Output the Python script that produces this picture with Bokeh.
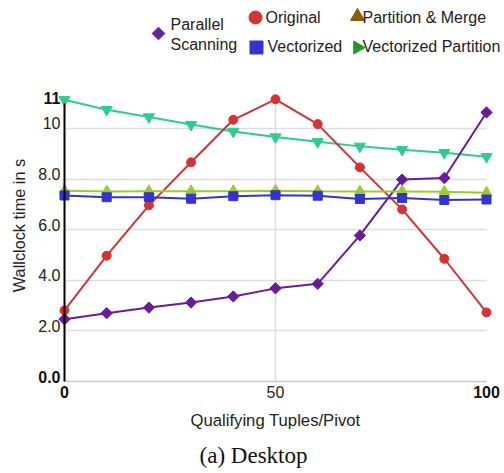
import numpy as np
from bokeh.plotting import figure
from bokeh.models import (Range1d, FixedTicker, Label, ColumnDataSource, LinearAxis, Grid)
from bokeh.layouts import column
from bokeh.embed import file_html
from bokeh.resources import INLINE

# ---------------- data ----------------
qualifying = [0, 10, 20, 30, 40, 50, 60, 70, 80, 90, 100]
parallel_scanning = [2.46, 2.70, 2.92, 3.12, 3.36, 3.68, 3.86, 5.77, 7.98, 8.04, 10.63]
original = [2.81, 4.97, 6.96, 8.66, 10.34, 11.15, 10.17, 8.46, 6.80, 4.85, 2.73]
partition_merge = [7.54, 7.51, 7.52, 7.52, 7.52, 7.54, 7.52, 7.51, 7.51, 7.50, 7.46]
vectorized = [7.35, 7.28, 7.28, 7.22, 7.32, 7.36, 7.34, 7.21, 7.25, 7.17, 7.19]
vectorized_partition = [11.13, 10.74, 10.45, 10.15, 9.88, 9.66, 9.47, 9.29, 9.16, 9.04, 8.88]

y_ticks = [2, 4, 6, 8, 10]
y_tick_labels = ["2.0", "4.0", "6.0", "8.0", "10"]
y_bold_ticks = [0, 11]
y_bold_labels = ["0.0", "11"]
x_ticks = [50]
x_tick_labels = ["50"]
x_bold_ticks = [0, 100]
x_bold_labels = ["0", "100"]

legend_labels = ["Parallel\nScanning", "Original", "Vectorized", "Partition & Merge", "Vectorized Partition"]

SANS = "Liberation Sans"

# ---------------- geometry (canvas pixels) ----------------
W, H_MAIN, H_LEG = 504, 413, 60
X_END, Y_END = 100, 11
AX_LEFT, AX_RIGHT = 64, 486          # x axis spans these pixels
AX_BOTTOM = 381 - H_LEG              # y=0 line, from top of main canvas
PX_X = (AX_RIGHT - AX_LEFT) / X_END
PX_Y = 25.31
LABEL_SHIFT = 5 / PX_Y               # tick labels sit slightly above their grid line

x0 = -AX_LEFT / PX_X
x1 = (W - AX_LEFT) / PX_X
y0 = -(H_MAIN - AX_BOTTOM) / PX_Y
y1 = AX_BOTTOM / PX_Y

p = figure(width=W, height=H_MAIN,
           x_range=Range1d(x0, x1), y_range=Range1d(y0, y1),
           x_axis_location=None, y_axis_location=None,
           output_backend="svg", toolbar_location=None,
           min_border=0, min_border_left=0, min_border_right=0,
           min_border_top=0, min_border_bottom=0)
p.outline_line_color = None
p.background_fill_color = "white"
p.grid.visible = False

# grid lines
has_cb = "cross_bounds" in Grid.properties()
xg = Grid(dimension=0, ticker=FixedTicker(ticks=x_ticks), grid_line_color="#dddddd",
          grid_line_width=1.6)
yg = Grid(dimension=1, ticker=FixedTicker(ticks=y_ticks), grid_line_color="#dddddd",
          grid_line_width=1.6)
if has_cb:
    xg.cross_bounds = (0, Y_END)
    yg.cross_bounds = (0, X_END)
p.add_layout(xg, "center")
p.add_layout(yg, "center")


def style_axis(ax, size="16px", bold=False):
    ax.major_tick_line_color = None
    ax.minor_tick_line_color = None
    ax.major_tick_out = 0
    ax.major_tick_in = 0
    ax.major_label_text_font = SANS
    ax.major_label_text_font_size = size
    ax.major_label_text_color = "#111111" if bold else "#222222"
    ax.major_label_text_font_style = "bold" if bold else "normal"
    ax.major_label_standoff = 4


# y title axis (no ticks)
yax_t = LinearAxis(ticker=FixedTicker(ticks=[]), fixed_location=0, axis_line_color=None,
                   bounds=(1.35, Y_END),
                   axis_label="Wallclock time in s", axis_label_standoff=37,
                   axis_label_text_font=SANS, axis_label_text_font_size="16.3px",
                   axis_label_text_font_style="normal", axis_label_text_color="#222222")
style_axis(yax_t)
yax_t.major_label_standoff = 0
p.add_layout(yax_t, "left")

# main y axis (normal labels)
y_pos = [t + LABEL_SHIFT for t in y_ticks]
yax = LinearAxis(ticker=FixedTicker(ticks=y_pos), fixed_location=0,
                 major_label_overrides={pp: l for pp, l in zip(y_pos, y_tick_labels)},
                 bounds=(0, Y_END), axis_line_color="black", axis_line_width=2)
style_axis(yax)
p.add_layout(yax, "left")

# bold y labels
yb_pos = [t + LABEL_SHIFT for t in y_bold_ticks]
yax_b = LinearAxis(ticker=FixedTicker(ticks=yb_pos), fixed_location=0,
                   major_label_overrides={pp: l for pp, l in zip(yb_pos, y_bold_labels)},
                   axis_line_color=None)
style_axis(yax_b, bold=True)
p.add_layout(yax_b, "left")

# x axis (normal)
xax = LinearAxis(ticker=FixedTicker(ticks=x_ticks), fixed_location=0,
                 major_label_overrides={t: l for t, l in zip(x_ticks, x_tick_labels)},
                 bounds=(0, X_END), axis_line_color="#c8c8c8", axis_line_width=1.5,
                 axis_label="Qualifying Tuples/Pivot", axis_label_standoff=10,
                 axis_label_text_font=SANS, axis_label_text_font_size="16.7px",
                 axis_label_text_font_style="normal", axis_label_text_color="#222222")
style_axis(xax)
p.add_layout(xax, "below")

# bold x labels
xax_b = LinearAxis(ticker=FixedTicker(ticks=x_bold_ticks), fixed_location=0,
                   major_label_overrides={t: l for t, l in zip(x_bold_ticks, x_bold_labels)},
                   axis_line_color=None)
style_axis(xax_b, bold=True)
p.add_layout(xax_b, "below")

# caption
p.add_layout(Label(x=253, y=18, x_units="screen", y_units="screen",
                   text="(a) Desktop", text_align="center", text_baseline="middle",
                   text_font="Liberation Serif", text_font_size="23px",
                   text_color="#111111"))

src = ColumnDataSource(dict(x=qualifying, ps=parallel_scanning, orig=original,
                            pm=partition_merge, vec=vectorized, vp=vectorized_partition))

series = [
    ("vp", "#2ecc8e", "inverted_triangle", 11, 0),
    ("orig", "#d23434", "circle", 9, 0),
    ("ps", "#6a1b9a", "square", 8, np.pi / 4),
    ("pm", "#99cc33", "triangle", 11, 0),
    ("vec", "#3434cc", "square", 9, 0),
]
for col, color, marker, size, ang in series:
    p.line("x", col, source=src, line_color=color, line_width=2)
    p.scatter("x", col, source=src, marker=marker, size=size, angle=ang,
              fill_color=color, line_color=color)

# ---------------- legend figure ----------------
lg = figure(width=W, height=H_LEG, x_range=Range1d(0, W), y_range=Range1d(H_LEG, 0),
            x_axis_location=None, y_axis_location=None,
            output_backend="svg", toolbar_location=None,
            min_border=0, min_border_left=0, min_border_right=0,
            min_border_top=0, min_border_bottom=0)
lg.grid.visible = False
lg.outline_line_color = None

leg_markers = ["square", "circle", "square", "triangle", "triangle"]
leg_colors = ["#66229a", "#d23434", "#3434cc", "#8b5e00", "#1e9a1e"]
leg_angles = [np.pi / 4, 0, 0, 0, -np.pi / 2]
leg_sizes = [9, 13, 13, 14, 13]
leg_mx = [158, 255, 256, 357, 357]
leg_my = [33, 17, 47, 16, 47]
leg_tx = [170, 265, 267, 362, 362]
leg_ty = [34, 17, 46, 17, 46]

lsrc = ColumnDataSource(dict(mx=leg_mx, my=leg_my, m=leg_markers, c=leg_colors,
                             a=leg_angles, s=leg_sizes))
lg.scatter("mx", "my", source=lsrc, marker="m", fill_color="c", line_color="c",
           angle="a", size="s")
for tx, ty, t in zip(leg_tx, leg_ty, legend_labels):
    lg.add_layout(Label(x=tx, y=ty, text=t, text_align="left", text_baseline="middle",
                        text_font=SANS, text_font_size="16px", text_color="#222222",
                        text_line_height=1.15))

layout = column(lg, p, spacing=0)
open("out.html", "w").write(file_html(layout, INLINE))
